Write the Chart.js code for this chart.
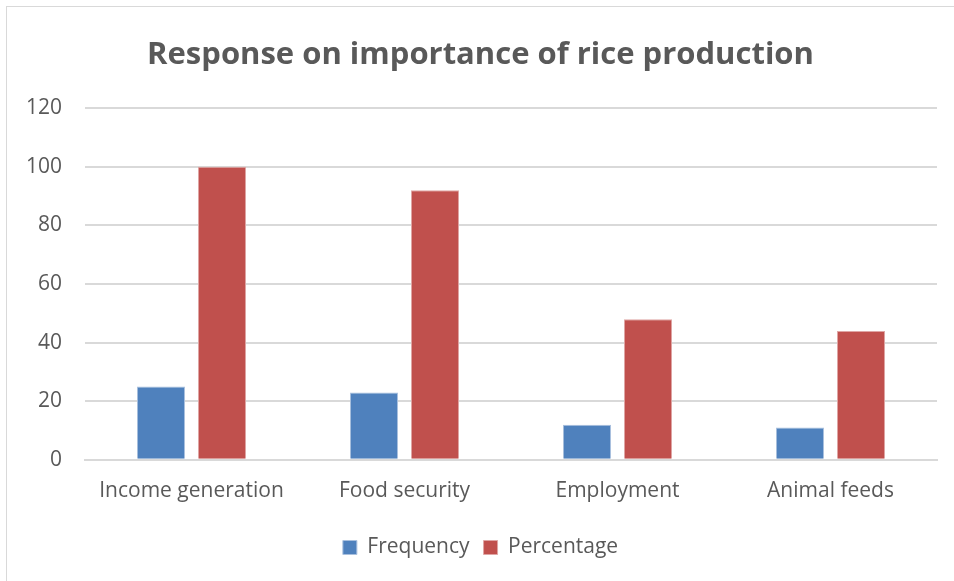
<!DOCTYPE html>
<html lang="en">
<head>
    <meta charset="UTF-8">
    <title>Response on importance of rice production</title>
    <script src="https://cdn.jsdelivr.net/npm/chart.js"></script>
    <style>
        body { margin: 0; background: #fff; overflow: hidden; }
        .frame { position: absolute; left: 6px; top: 6px; width: 1000px; height: 1000px; border: 1px solid #d9d9d9; }
        .chart-container { position: absolute; left: 0; top: 0; width: 954px; height: 581px; }
    </style>
</head>
<body>
    <div class="frame"></div>
    <div class="chart-container">
        <canvas id="myChart"></canvas>
    </div>
    <script>
        // donnees
        const categories = ['Income generation', 'Food security', 'Employment', 'Animal feeds'];
        const frequency = [25, 23, 12, 11];
        const percentage = [100, 92, 48, 44];
        const yTicks = [0, 20, 40, 60, 80, 100, 120];

        const textColor = '#595959';
        const gridColor = '#d9d9d9';
        const fontName = "'Open Sans', sans-serif";

        const ctx = document.getElementById('myChart').getContext('2d');
        new Chart(ctx, {
            type: 'bar',
            data: {
                labels: categories,
                datasets: [{
                    label: 'Frequency',
                    data: frequency,
                    backgroundColor: '#4F81BD',
                    borderColor: '#a9c0de',
                    borderWidth: 1
                }, {
                    label: 'Percentage',
                    data: percentage,
                    backgroundColor: '#C0504D',
                    borderColor: '#dfa6a5',
                    borderWidth: 1
                }]
            },
            options: {
                responsive: true,
                maintainAspectRatio: false,
                animation: false,
                layout: { padding: { left: 24, right: 17, top: 0, bottom: 13 } },
                datasets: {
                    bar: { categoryPercentage: 0.573, barPercentage: 0.787 }
                },
                plugins: {
                    title: {
                        display: true,
                        text: 'Response on importance of rice production',
                        color: textColor,
                        font: { family: fontName, size: 31, weight: 'bold' },
                        padding: { top: 37, bottom: 34 }
                    },
                    legend: {
                        position: 'bottom',
                        labels: {
                            color: textColor,
                            font: { family: fontName, size: 21 },
                            boxWidth: 14,
                            boxHeight: 14,
                            padding: 14
                        }
                    },
                    tooltip: { enabled: false }
                },
                scales: {
                    x: {
                        grid: { display: false, drawTicks: false },
                        border: { display: true, color: gridColor, width: 2 },
                        ticks: { color: textColor, font: { family: fontName, size: 21 }, padding: 19 }
                    },
                    y: {
                        min: 0,
                        max: 120,
                        afterFit: (scale) => { scale.width = 61; },
                        afterBuildTicks: (scale) => { scale.ticks = yTicks.map(v => ({ value: v })); },
                        grid: { color: gridColor, lineWidth: 2, drawTicks: false },
                        border: { display: false },
                        ticks: { color: textColor, font: { family: fontName, size: 21 }, padding: 23 }
                    }
                }
            }
        });
    </script>
</body>
</html>
